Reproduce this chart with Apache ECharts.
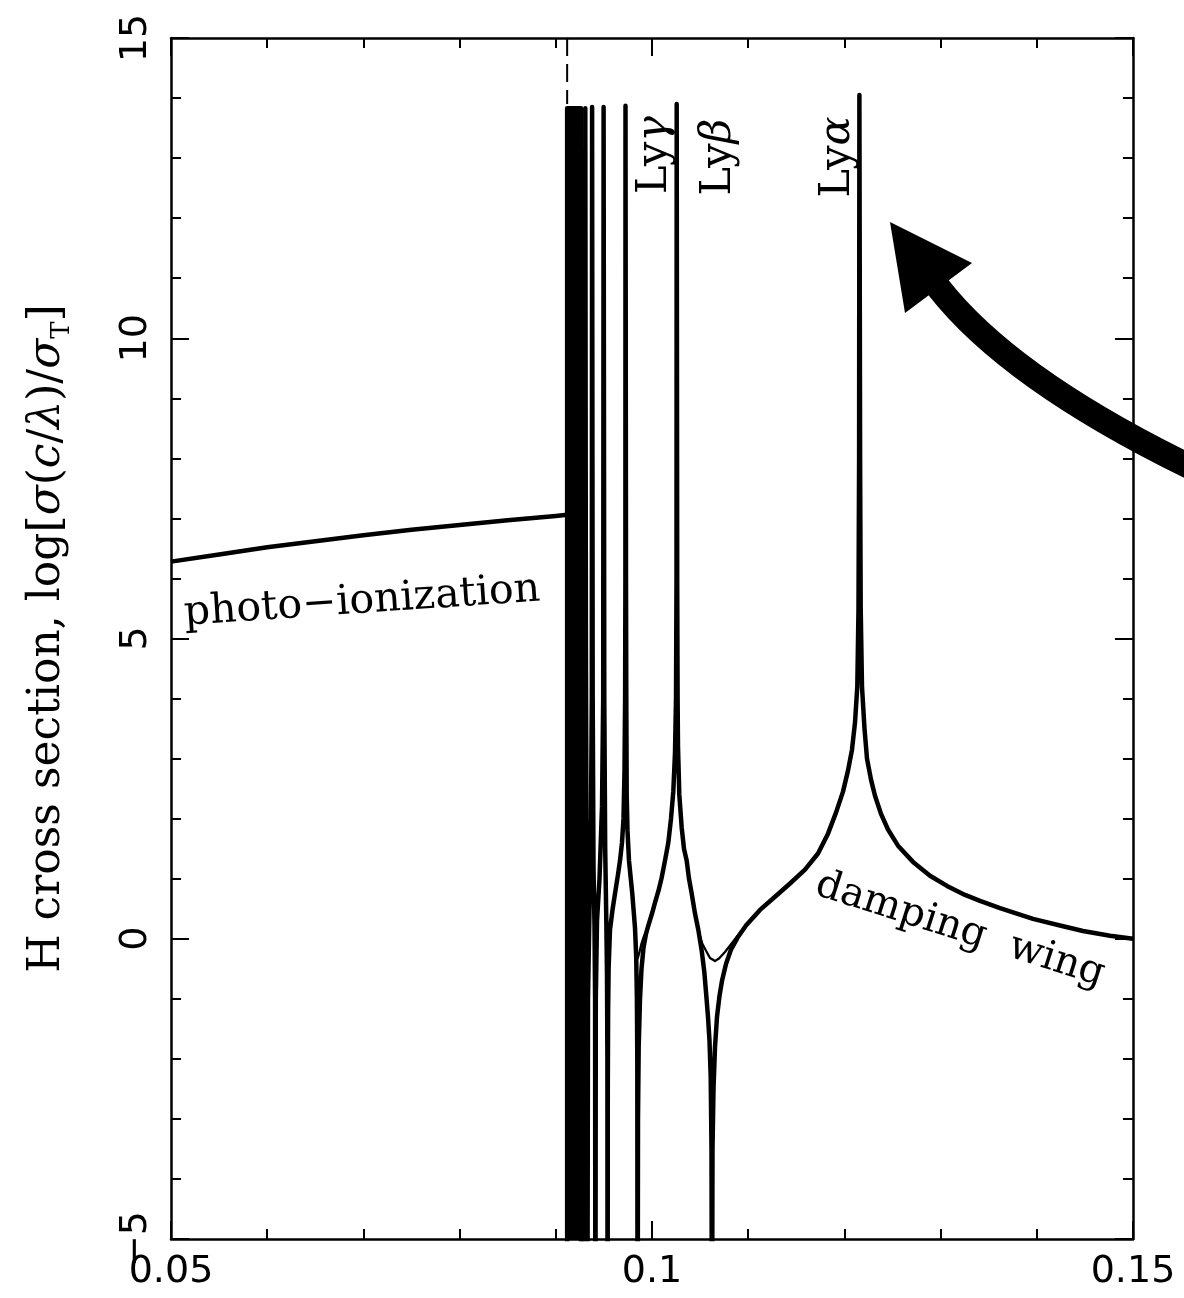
<!DOCTYPE html>
<html><head><meta charset="utf-8">
<script src="https://cdn.jsdelivr.net/npm/echarts@6/dist/echarts.min.js"></script>
<style>html,body{margin:0;padding:0;background:#fff}#c{width:1184px;height:1298px}</style>
</head><body><div id="c"></div>
<script>
// ---- axis ticks ----
const xTickValues = [0.05, 0.10, 0.15];
const xTickLabels = ['0.05', '0.1', '0.15'];
const yTickValues = [-5, 0, 5, 10, 15];
const yTickLabels = ['\u22125', '0', '5', '10', '15'];

// ---- data: wavelength (micron), log[sigma/sigma_T] ----
const photoIonization = [[0.05,6.28],[0.055,6.40],[0.06,6.52],[0.065,6.62],[0.07,6.72],[0.075,6.81],[0.08,6.89],[0.085,6.97],[0.09,7.04],[0.09118,7.06]];

// unresolved series-limit forest (solid block)
const forestBlock = [[0.09118,-8],[0.09118,13.83],[0.09262,13.83],[0.09262,-8]];

// resolved high-order lines (zeta, epsilon, delta)
const lymanForest = [[0.092827,-8],[0.092993,2],[0.093046,5],[0.093066,13.83],[0.093098,13.83],[0.093128,5],[0.093191,1.5],[0.093243,0],[0.093274,-8],
[0.093347,-1],[0.093503,0.5],[0.093659,2],[0.093742,4],[0.093773,13.85],[0.093804,13.85],[0.093836,4],[0.093919,1.2],[0.094023,0.2],[0.094085,-1],[0.094116,-8],
[0.094158,-1],[0.094283,0.3],[0.094543,1.0],[0.094802,2.2],[0.094927,4],[0.094969,13.85],[0.095000,13.85],[0.095041,4],[0.095135,1.5],[0.095250,0.3],[0.095322,-0.6],[0.095364,-2],[0.095385,-8]];

const lyGammaProfile = [[0.095405,-2.5],[0.095437,-1.2],[0.095489,-0.5],[0.095634,0.15],[0.095894,0.48],[0.096154,0.75],[0.096466,1.07],[0.096674,1.3],[0.096881,1.6],[0.097037,2.0],[0.097141,2.8],[0.097204,4],[0.097235,6],[0.097245,13.87],[0.097276,13.87],[0.097297,6],[0.097328,4],[0.097370,2.4],[0.097453,1.8],[0.097609,1.3],[0.097952,0.75],[0.098233,0.18],[0.098357,-0.3],[0.098430,-1.0],[0.098472,-2.0],[0.098503,-8]];

const lyBetaProfile = [[0.098545,-3],[0.098617,-1.8],[0.098753,-1.0],[0.098908,-0.5],[0.099116,-0.15],[0.099376,0.08],[0.099615,0.22],[0.100000,0.42],[0.100312,0.6],[0.100676,0.8],[0.101008,1.02],[0.101351,1.3],[0.101694,1.6],[0.101975,2.0],[0.102214,2.45],[0.102391,3.1],[0.102495,4.0],[0.102547,6],[0.102567,13.9],[0.102599,13.9],[0.102619,6],[0.102661,4],[0.102703,3.2],[0.102838,2.4],[0.103087,1.85],[0.103326,1.5],[0.103607,1.3],[0.103846,1.0],[0.104127,0.75],[0.104470,0.42],[0.104813,0.15],[0.105166,-0.2],[0.105437,-0.55],[0.105645,-0.95],[0.105821,-1.3],[0.105977,-1.7],[0.106102,-2.3],[0.106185,-3.5],[0.106237,-8]];

const lyAlphaProfile = [[0.106289,-3.5],[0.106393,-2.5],[0.106549,-1.8],[0.106757,-1.3],[0.107017,-0.95],[0.107276,-0.7],[0.107692,-0.42],[0.108212,-0.18],[0.108940,0.03],[0.109771,0.22],[0.111227,0.48],[0.112786,0.7],[0.114345,0.92],[0.115904,1.15],[0.117256,1.42],[0.118295,1.75],[0.119127,2.1],[0.119854,2.45],[0.120374,2.8],[0.120790,3.15],[0.121102,3.6],[0.121341,4.2],[0.121466,5.5],[0.121528,8],[0.121559,14.05],[0.121601,14.05],[0.121632,8],[0.121695,5.5],[0.121829,4.2],[0.122089,3.5],[0.122349,3.0],[0.122765,2.65],[0.123181,2.38],[0.123805,2.08],[0.124532,1.82],[0.125572,1.55],[0.127131,1.28],[0.128898,1.05],[0.130665,0.88],[0.132536,0.73],[0.134096,0.63],[0.136175,0.51],[0.139605,0.33],[0.142412,0.22],[0.144802,0.13],[0.147609,0.05],[0.150000,0.0]];

// thin curves (no interference) where they depart from the thick one
const noInterfBetaAlpha = [[0.104127,0.75],[0.104470,0.42],[0.104813,0.13],[0.105197,-0.07],[0.105686,-0.22],[0.106029,-0.32],[0.106549,-0.37],[0.106965,-0.33],[0.107588,-0.22],[0.108316,-0.07],[0.109148,0.1],[0.110187,0.3],[0.111227,0.48]];
const noInterfGammaBeta = [[0.097952,0.75],[0.098233,0.18],[0.098368,-0.1],[0.098513,-0.33],[0.098701,-0.22],[0.098908,-0.08],[0.099116,0.02],[0.099376,0.12],[0.099615,0.22]];
const noInterfDeltaGamma = [[0.095250,0.3],[0.095322,0.0],[0.095374,-0.15],[0.095447,-0.1],[0.095530,0.0],[0.095634,0.15]];

const lymanEdge = [[0.09118,15],[0.09118,13.9]];

// ---- chart ----
const chart = echarts.init(document.getElementById('c'), null, {renderer:'canvas'});
const BLACK = '#000';
const sans = 'DejaVu Sans';
const serif = 'DejaVu Serif';
const tickStyle = {color:BLACK, width:2};
function xAxisDef(pos, showLabel) {
  return {type:'value', position:pos, min:0.05, max:0.15, interval:0.05,
    axisLine:{show:true, onZero:false, lineStyle:{color:BLACK, width:2.5}},
    axisTick:{show:true, inside:true, length:18, lineStyle:tickStyle},
    minorTick:{show:true, splitNumber:5, length:10, lineStyle:tickStyle},
    splitLine:{show:false},
    axisLabel:{show:showLabel, color:BLACK, fontFamily:sans, fontSize:38, margin:14,
      formatter:v => { const i = xTickValues.findIndex(t => Math.abs(t-v)<1e-9); return i>=0 ? xTickLabels[i] : ''; }}
  };
}
function yAxisDef(pos, showLabel) {
  return {type:'value', position:pos, min:-5, max:15, interval:5,
    axisLine:{show:true, onZero:false, lineStyle:{color:BLACK, width:2.5}},
    axisTick:{show:true, inside:true, length:18, lineStyle:tickStyle},
    minorTick:{show:true, splitNumber:5, length:10, lineStyle:tickStyle},
    splitLine:{show:false},
    axisLabel:{show:showLabel, color:BLACK, fontFamily:sans, fontSize:38, margin:16, rotate:90,
      formatter:v => { const i = yTickValues.findIndex(t => Math.abs(t-v)<1e-9); return i>=0 ? yTickLabels[i] : ''; }}
  };
}
const yName = {
  name:'{r|H cross section, log[}{i|σ}{r|(}{i|c}{r|/}{i|λ}{r|)/}{i|σ}{s|T}{r|]}',
  nameLocation:'middle', nameGap:96, nameRotate:90,
  nameTextStyle:{color:BLACK, fontFamily:serif, fontSize:44,
    rich:{r:{fontFamily:serif, fontSize:44, color:BLACK, lineHeight:54, verticalAlign:'middle'},
          i:{fontFamily:serif, fontSize:44, fontStyle:'italic', color:BLACK, lineHeight:54, verticalAlign:'middle'},
          s:{fontFamily:serif, fontSize:26, color:BLACK, lineHeight:26, verticalAlign:'bottom'}}}
};

function lineSeries(data, width, extra) {
  return Object.assign({type:'line', data:data, symbol:'none', silent:true, clip:true,
    lineStyle:{color:BLACK, width:width, join:'round'}, itemStyle:{color:BLACK}, animation:false}, extra||{});
}

const thickCurve = lymanForest.concat(lyGammaProfile, lyBetaProfile, lyAlphaProfile);

const greekRich = {r:{fontFamily:serif, fontSize:43, color:BLACK}, i:{fontFamily:serif, fontSize:43, fontStyle:'italic', color:BLACK}};

const option = {
  backgroundColor:'#fff',
  animation:false,
  grid:{left:171, right:51, top:38, bottom:59, containLabel:false},
  xAxis:[xAxisDef('bottom', true), xAxisDef('top', false)],
  yAxis:[Object.assign(yAxisDef('left', true), yName), yAxisDef('right', false)],
  series:[
    lineSeries(photoIonization, 4.5),
    lineSeries(forestBlock, 4.5, {areaStyle:{color:BLACK, opacity:1, origin:'start'}}),
    lineSeries(thickCurve, 4.5),
    lineSeries(noInterfBetaAlpha, 2.3),
    lineSeries(noInterfGammaBeta, 2.3),
    lineSeries(noInterfDeltaGamma, 2.3),
    lineSeries(lymanEdge, 2, {lineStyle:{color:BLACK, width:2, type:[18,8]}})
  ],
  graphic:[
    {type:'text', x:655, y:155, rotation:Math.PI/2, silent:true, style:{text:'{r|Ly}{i|γ}', rich:greekRich, align:'center', verticalAlign:'middle'}},
    {type:'text', x:719, y:157, rotation:Math.PI/2, silent:true, style:{text:'{r|Ly}{i|β}', rich:greekRich, align:'center', verticalAlign:'middle'}},
    {type:'text', x:838, y:157, rotation:Math.PI/2, silent:true, style:{text:'{r|Ly}{i|α}', rich:greekRich, align:'center', verticalAlign:'middle'}},
    {type:'text', x:362, y:602, rotation:0.068, silent:true, style:{text:'photo\u2212ionization', fontFamily:serif, fontSize:41, fill:BLACK, align:'center', verticalAlign:'middle'}},
    {type:'text', x:960, y:930, rotation:-0.31, silent:true, style:{text:'damping  wing', fontFamily:serif, fontSize:40, fill:BLACK, align:'center', verticalAlign:'middle'}},
    {type:'bezierCurve', silent:true, shape:{x1:1205, y1:474, cpx1:1012, cpy1:382, x2:938, y2:287}, style:{stroke:BLACK, lineWidth:25, fill:null}},
    {type:'polygon', silent:true, shape:{points:[[890,222],[972,263],[905,313]]}, style:{fill:BLACK}}
  ]
};
chart.setOption(option);
</script>
</body></html>
